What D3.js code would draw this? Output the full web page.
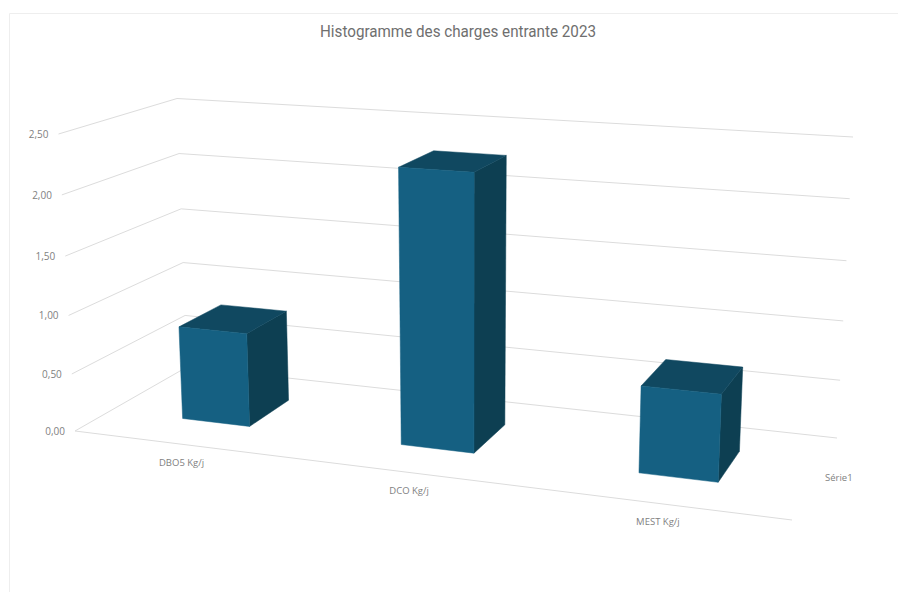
<!DOCTYPE html>
<html><head><meta charset="utf-8">
<script src="https://cdn.jsdelivr.net/npm/d3@7/dist/d3.min.js"></script>
<style>html,body{margin:0;padding:0;background:#fff}svg{display:block}</style></head>
<body><svg id="c" width="898" height="592"></svg>
<script>
const categories = ["DBO5 Kg/j","DCO Kg/j","MEST Kg/j"];
const values = [0.81,2.29,0.71];
const tickValues = [0,0.5,1,1.5,2,2.5];
const seriesNames = ["Série1"];
const title = "Histogramme des charges entrante 2023";

function homography(q){
  const [p0,p1,p2,p3]=q;
  const dx1=p1[0]-p2[0],dx2=p3[0]-p2[0],dx3=p0[0]-p1[0]+p2[0]-p3[0];
  const dy1=p1[1]-p2[1],dy2=p3[1]-p2[1],dy3=p0[1]-p1[1]+p2[1]-p3[1];
  const den=dx1*dy2-dx2*dy1;
  const g=(dx3*dy2-dx2*dy3)/den,h=(dx1*dy3-dx3*dy1)/den;
  const a=p1[0]-p0[0]+g*p1[0],b=p3[0]-p0[0]+h*p3[0],c=p0[0];
  const d=p1[1]-p0[1]+g*p1[1],e=p3[1]-p0[1]+h*p3[1],f=p0[1];
  return (u,z)=>{const w=g*u+h*z+1;return [(a*u+b*z+c)/w,(d*u+e*z+f)/w];};
}
const floor=homography([[75,431],[792,520],[837,438],[187,367]]);
const roof =homography([[58.5,134],[808,183],[853,137],[177,98.5]]);
const vT=d3.scaleLinear().domain(tickValues).range([0,.192,.389,.589,.795,1]);
const P=(u,z,v)=>{const a=floor(u,z),b=roof(u,z),t=vT(v);return [a[0]+(b[0]-a[0])*t,a[1]+(b[1]-a[1])*t];};
const uS=d3.scaleBand().domain(categories).range([0,1]).paddingInner(.685).paddingOuter(.3425);
const zS=d3.scaleBand().domain(seriesNames).range([0,1]).padding(.439);
const labelX=d3.scaleLinear().domain([156,644]).range([181.5,658]);
const labelY=d3.scaleLinear().domain([458,520]).range([463,521.5]);
const labelAt=c=>P(uS(c)+uS.bandwidth()/2,-.22,0);

const svg=d3.select("#c");
const line=d3.line();
const poly=pts=>line(pts)+"Z";
const fmt=d3.formatLocale({decimal:",",thousands:" ",grouping:[3],currency:["","€"]}).format(".2f");
const font="'Open Sans',sans-serif";

svg.append("path").attr("d","M9.5,592V13.5H898").attr("fill","none").attr("stroke","#eeeeee");
svg.append("g").selectAll("path").data(tickValues).join("path")
 .attr("d",v=>line([P(0,0,v),P(0,1,v),P(1,1,v)])).attr("fill","none").attr("stroke","#dcdcdc");
svg.append("path").attr("d",line([P(0,0,0),P(1,0,0)])).attr("fill","none").attr("stroke","#dcdcdc");

const bars=svg.append("g").selectAll("g").data(categories.map((c,i)=>({c,v:values[i]}))).join("g");
const box=d=>{const u0=uS(d.c),u1=u0+uS.bandwidth(),z0=zS(seriesNames[0]),z1=z0+zS.bandwidth();
  return {u0,u1,z0,z1};};
bars.append("path").attr("fill","#0d3f52").attr("stroke","#0d3f52").attr("stroke-width",.5).attr("d",d=>{const b=box(d);
  return poly([P(b.u1,b.z0,0),P(b.u1,b.z1,0),P(b.u1,b.z1,d.v),P(b.u1,b.z0,d.v)]);});
bars.append("path").attr("fill","#104860").attr("stroke","#104860").attr("stroke-width",.5).attr("d",d=>{const b=box(d);
  return poly([P(b.u0,b.z0,d.v),P(b.u1,b.z0,d.v),P(b.u1,b.z1,d.v),P(b.u0,b.z1,d.v)]);});
bars.append("path").attr("fill","#156082").attr("stroke","#156082").attr("stroke-width",.5).attr("d",d=>{const b=box(d);
  return poly([P(b.u0,b.z0,0),P(b.u1,b.z0,0),P(b.u1,b.z0,d.v),P(b.u0,b.z0,d.v)]);});

svg.append("g").selectAll("text").data(tickValues).join("text")
 .attr("x",v=>P(0,0,v)[0]-10).attr("y",v=>P(0,0,v)[1]+4).attr("text-anchor","end")
 .attr("font-family",font).attr("font-size",10).attr("fill","#7f7f7f").text(fmt);
svg.append("g").selectAll("text").data(categories).join("text")
 .attr("x",c=>labelX(labelAt(c)[0])).attr("y",c=>labelY(labelAt(c)[1]))
 .attr("text-anchor","middle").attr("font-family",font).attr("font-size",9.5).attr("fill","#7f7f7f").text(c=>c);
svg.append("g").selectAll("text").data(seriesNames).join("text")
 .attr("x",s=>P(1,.5,0)[0]+23).attr("y",s=>P(1,.5,0)[1]+4)
 .attr("text-anchor","middle").attr("font-family",font).attr("font-size",9.5).attr("fill","#7f7f7f").text(s=>s);
svg.append("text").attr("x",458).attr("y",37).attr("text-anchor","middle")
 .attr("textLength",276).attr("lengthAdjust","spacingAndGlyphs")
 .attr("font-family","Roboto,sans-serif").attr("font-size",17).attr("fill","#6f6f6f").text(title);
</script></body></html>
